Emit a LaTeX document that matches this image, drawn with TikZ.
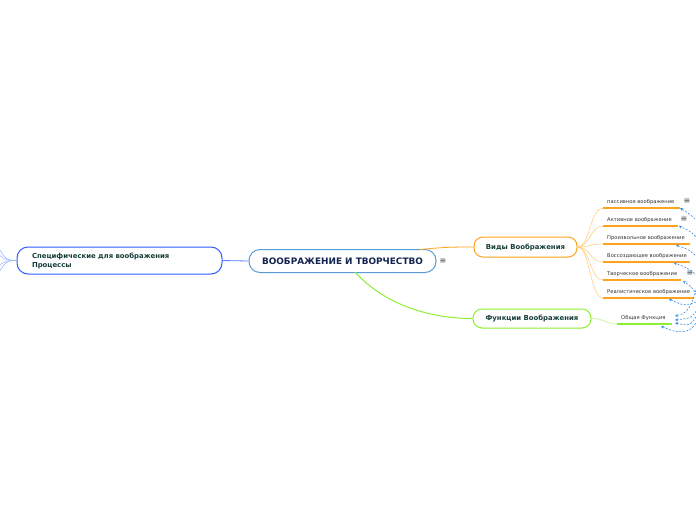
\documentclass[tikz,border=0pt]{standalone}
\usepackage{fontspec}
\setmainfont{DejaVu Sans}
\usetikzlibrary{arrows.meta}
\definecolor{cblue}{HTML}{5B9BD5}
\definecolor{lblue}{HTML}{2F5BFF}
\definecolor{fanblue}{HTML}{9DB8FF}
\definecolor{corange}{HTML}{FFA31A}
\definecolor{lorange}{HTML}{FFCF85}
\definecolor{cgreen}{HTML}{8CF032}
\definecolor{lgreen}{HTML}{C8F79A}
\definecolor{navy}{HTML}{13244F}
\definecolor{dgreen}{HTML}{173F3A}
\definecolor{subtxt}{HTML}{333333}
\definecolor{dashblue}{HTML}{3A8EE6}
\tikzset{
  x=1pt,y=-1pt,
  topic/.style={draw, rounded corners=11pt, fill=white, line width=1pt, font=\bfseries, inner sep=0pt},
  subtext/.style={anchor=base west, font=\fontsize{5.2}{6}\selectfont, text=subtxt, inner sep=0pt},
  ul/.style={corange, line width=1.5pt},
  conn/.style={line width=0.8pt},
  rel/.style={dashblue, dashed, dash pattern=on 2pt off 1.5pt, line width=0.6pt, -{Stealth[length=3pt,width=3pt]}},
  menu/.style={font=\fontsize{8}{8}\selectfont, text=black!75, inner sep=0pt},
}
\begin{document}
\begin{tikzpicture}
\useasboundingbox (0,0) rectangle (696,520);
\begin{scope}
\clip (0,0) rectangle (696,520);
% central
\node[topic, draw=cblue, minimum width=187pt, minimum height=23pt, text=navy, font=\bfseries\fontsize{8.9}{10}\selectfont] (c) at (342.5,261) {ВООБРАЖЕНИЕ И ТВОРЧЕСТВО};
\node[menu] (cm) at (443,261) {≡};
% left
\node[topic, draw=lblue, minimum width=205pt, minimum height=27pt, text=dgreen, font=\bfseries\fontsize{6.9}{9}\selectfont, align=left, text width=175pt] (l) at (119.5,260.5) {Специфические для воображения\\Процессы};
\draw[conn, lblue!80] (c.west) -- (l.east);
\coordinate (f1) at (-2,247);
\coordinate (f2) at (-2,254);
\coordinate (f3) at (-2,266);
\coordinate (f4) at (-2,274);
\foreach \f in {f1,f2,f3,f4}{
  \draw[fanblue, line width=0.6pt] (l.west) .. controls (8,260.5) and (6,260.5) .. (\f);
}
% Vidy
\node[topic, draw=corange, rounded corners=9pt, minimum width=103pt, minimum height=20pt, text=dgreen, font=\bfseries\fontsize{6.9}{8}\selectfont] (v) at (525.5,247) {Виды Воображения};
\draw[conn, corange] (420,249.5) .. controls (445,247) and (455,247) .. (v.west);
% Funkcii
\node[topic, draw=cgreen, rounded corners=9pt, minimum width=118pt, minimum height=19pt, text=dgreen, font=\bfseries\fontsize{6.9}{8}\selectfont] (fn) at (532,318.5) {Функции Воображения};
\draw[conn, cgreen, line width=1pt] (355,272) .. controls (385,305) and (430,318.5) .. (fn.west);
% sub nodes
\foreach \n/\y/\e/\t in {s1/208/680/пассивное воображение, s2/226/678/Активное воображение, s3/244/690/Произвольное воображение, s4/262/690/Воссоздающее воображение, s5/280/681/Творческое воображение, s6/298/694/Реалистическое воображение}{
  \coordinate (\n a) at (603,\y);
  \coordinate (\n b) at (\e,\y);
  \node[subtext] (\n) at (607,\y-4.5) {\t};
  \draw[lorange, line width=0.6pt] (v.east) .. controls (590,247) and (590,\y) .. (\n a);
  \draw[ul] (\n a) -- (\n b);
}
\node[menu] (m1) at (687,201) {≡};
\node[menu] (m2) at (684,219) {≡};
\node[menu] (m5) at (690,273) {≡};
% Obshchaya
\coordinate (o1) at (617,324);
\coordinate (o2) at (672,324);
\node[subtext] (o) at (621,319.5) {Общая Функция};
\draw[lgreen, line width=0.8pt] (fn.east) .. controls (605,318.5) and (605,324) .. (o1);
\draw[cgreen, line width=1.5pt] (o1) -- (o2);
% relationships
\coordinate (r1) at (700,224);
\coordinate (r2) at (700,242);
\coordinate (r3) at (700,260);
\coordinate (r4) at (700,278);
\coordinate (r5) at (698,298);
\coordinate (r6) at (696,302);
\coordinate (r7) at (696,290);
\coordinate (r8) at (698,308);
\coordinate (r9) at (698,314);
\coordinate (r10) at (697,320);
\draw[rel] (r1) .. controls (690,214) .. (s1b);
\draw[rel] (r2) .. controls (692,232) .. ([xshift=1pt]s2b);
\draw[rel] (r3) .. controls (690,250) .. (676,245);
\draw[rel] (r4) .. controls (688,268) .. (674,263);
\draw[rel] (r5) .. controls (693,288) .. (683,281);
\draw[rel] (r6) .. controls (684,306) .. (669,299);
\draw[rel] (r7) .. controls (690,312) and (684,314) .. (675,316);
\draw[rel] (r8) .. controls (692,318) .. (675,320);
\draw[rel] (r9) .. controls (690,326) .. (675,323);
\draw[rel] (r10) .. controls (692,336) and (675,333) .. (661,326);
\end{scope}
\end{tikzpicture}
\end{document}
